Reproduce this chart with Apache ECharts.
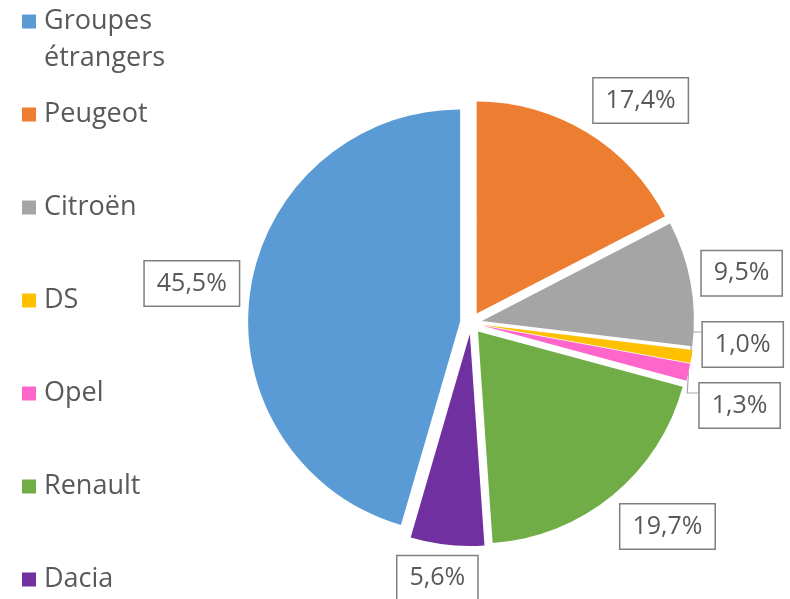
<!DOCTYPE html>
<html>
<head>
<meta charset="utf-8">
<script src="https://cdn.jsdelivr.net/npm/echarts@6/dist/echarts.min.js"></script>
<style>
  html, body { margin: 0; padding: 0; background: #fff; }
  #main { width: 790px; height: 599px; }
</style>
</head>
<body>
<div id="main"></div>
<script>
// slices, clockwise from 12 o'clock
var names = ['Peugeot', 'Citroën', 'DS', 'Opel', 'Renault', 'Dacia', 'Groupes étrangers'];
var values = [17.4, 9.5, 1.0, 1.3, 19.7, 5.6, 45.5];
var colors = ['#ED7D31', '#A5A5A5', '#FFC000', '#FF66CC', '#70AD47', '#7030A0', '#5B9BD5'];
var withLine = ['DS', 'Opel'];
var legendOrder = ['Peugeot', 'Citroën', 'DS', 'Opel', 'Renault', 'Dacia'];

var CX = 471, CY = 323, R = 212, OFF = 11, RB = 233, GAP = 14;
var textColor = '#595959';
var font = '"Open Sans", "Noto Sans", sans-serif';

var total = values.reduce(function (a, b) { return a + b; }, 0);
var midAngles = [];
var acc = 0;
values.forEach(function (v) {
  midAngles.push((acc + v / 2) / total * 2 * Math.PI);
  acc += v;
});

function clamp1(v) { return Math.max(-1, Math.min(1, v)); }

// label box hangs off an anchor point just outside the slice (Excel style)
function naturalPos(i, w, h) {
  var s = Math.sin(midAngles[i]), c = Math.cos(midAngles[i]);
  return {
    x: CX + RB * s + w * clamp1(2 * s),
    y: CY - RB * c + h * clamp1(-2 * c)
  };
}

function labelPos(i, w, h) {
  var p = naturalPos(i, w, h);
  [i - 1, i + 1].forEach(function (j) {
    if (j < 0 || j >= values.length) return;
    var q = naturalPos(j, w, h);
    if (Math.abs(p.y - q.y) < 2 * h + GAP && Math.abs(p.x - q.x) < 2 * w) {
      var m = (p.y + q.y) / 2;
      p.y = m + (j > i ? -1 : 1) * (h + GAP / 2);
    }
  });
  return p;
}

var pieData = names.map(function (n, i) {
  return { name: n, value: values[i], selected: true, itemStyle: { color: colors[i] } };
});

var labelData = names.map(function (n, i) {
  return { name: n, value: values[i], labelLine: { show: withLine.indexOf(n) >= 0 } };
});

var legendText = { color: textColor, fontSize: 27, lineHeight: 37, fontFamily: font, padding: [0, 0, 0, 3] };

var chart = echarts.init(document.getElementById('main'));
var option = {
  animation: false,
  legend: [
    {
      data: ['Groupes étrangers'],
      orient: 'vertical',
      left: 22,
      top: -34,
      padding: 0,
      selectedMode: false,
      icon: 'rect',
      itemWidth: 14,
      itemHeight: 14,
      formatter: function () { return '\nGroupes\nétrangers'; },
      textStyle: legendText
    },
    {
      data: legendOrder,
      orient: 'vertical',
      left: 22,
      top: 96,
      height: 520,
      padding: 0,
      itemGap: 56,
      selectedMode: false,
      icon: 'rect',
      itemWidth: 14,
      itemHeight: 14,
      textStyle: legendText
    }
  ],
  series: [
    {
      type: 'pie',
      center: [CX, CY],
      radius: R,
      startAngle: 90,
      clockwise: true,
      selectedMode: 'multiple',
      selectedOffset: OFF,
      emphasis: { disabled: true },
      label: { show: false },
      labelLine: { show: false },
      data: pieData
    },
    {
      // transparent copy carrying the boxed value labels
      type: 'pie',
      center: [CX, CY],
      radius: R + OFF,
      startAngle: 90,
      clockwise: true,
      silent: true,
      selectedMode: false,
      avoidLabelOverlap: false,
      emphasis: { disabled: true },
      itemStyle: { color: 'rgba(0,0,0,0)' },
      label: {
        show: true,
        position: 'outside',
        color: textColor,
        fontFamily: font,
        fontSize: 25,
        lineHeight: 30,
        padding: [7, 12, 7, 12],
        borderColor: '#7F7F7F',
        borderWidth: 1.5,
        backgroundColor: '#fff',
        formatter: function (p) { return p.value.toFixed(1).replace('.', ',') + '%'; }
      },
      labelLine: {
        show: false,
        lineStyle: { color: '#A6A6A6', width: 1.2 }
      },
      labelLayout: function (p) {
        var i = p.dataIndex;
        var w = p.labelRect.width / 2, h = p.labelRect.height / 2;
        var pos = labelPos(i, w, h);
        var res = { x: pos.x, y: pos.y, align: 'center', verticalAlign: 'middle' };
        if (withLine.indexOf(names[i]) >= 0) {
          var s = Math.sin(midAngles[i]), c = Math.cos(midAngles[i]);
          var left = pos.x - w, top = pos.y - h;
          res.labelLinePoints = [
            [CX + (R + OFF) * s, CY - (R + OFF) * c],
            [left - 11, top + 11],
            [left, top + 11]
          ];
        }
        return res;
      },
      data: labelData
    }
  ]
};
chart.setOption(option);
window.addEventListener('resize', function () {
  chart.resize();
});
</script>
</body>
</html>
